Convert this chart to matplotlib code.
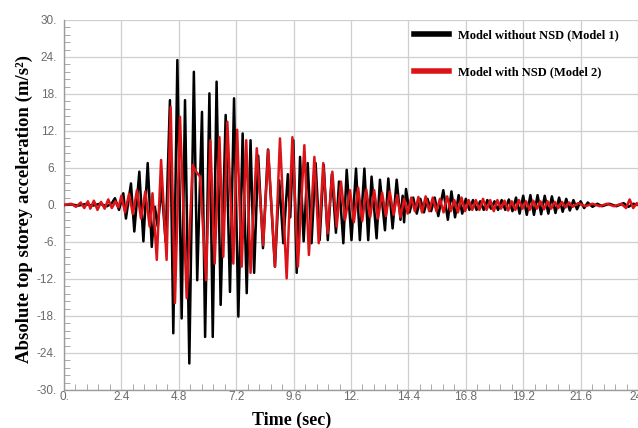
import matplotlib
matplotlib.use("Agg")
import matplotlib.pyplot as plt
from matplotlib.ticker import MultipleLocator, FuncFormatter

# extremes (time, accel), model 1 (black)
t_model1 = [0.0, 0.3, 0.6, 0.9, 1.2, 1.5, 1.8, 2.0, 2.13, 2.30, 2.48, 2.59, 2.80, 2.94, 3.15, 3.32,
            3.50, 3.67, 3.80, 3.92, 4.08, 4.25, 4.43, 4.57, 4.74, 4.92, 5.06, 5.24, 5.43, 5.57, 5.77,
            5.90, 6.08, 6.22, 6.38, 6.55, 6.76, 6.94, 7.11, 7.29, 7.47, 7.64, 7.80, 7.95, 8.12, 8.32,
            8.53, 8.82, 9.00, 9.17, 9.36, 9.46, 9.59, 9.73, 9.87, 10.02, 10.19, 10.35, 10.52, 10.69,
            10.86, 11.03, 11.20, 11.37, 11.50, 11.68, 11.82, 12.02, 12.21, 12.37, 12.56, 12.72, 12.86,
            13.07, 13.21, 13.42, 13.56, 13.74, 13.91, 14.07, 14.16, 14.22, 14.30, 14.45, 14.60, 14.75,
            14.90, 15.05, 15.20, 15.35, 15.50, 15.65, 15.86, 16.05, 16.20, 16.35, 16.50, 16.65, 16.80,
            16.95, 17.10, 17.25, 17.40, 17.55, 17.70, 17.85, 18.00, 18.15, 18.30, 18.45, 18.60, 18.75,
            18.90, 19.05, 19.20, 19.35, 19.50, 19.65, 19.80, 19.95, 20.10, 20.25, 20.40, 20.55, 20.70,
            20.85, 21.00, 21.15, 21.30, 21.45, 21.60, 21.75, 21.90, 22.10, 22.30, 22.50, 22.80, 23.10,
            23.40, 23.60, 23.80, 24.0]
acc_model1 = [0, 0.1, -0.1, 0.15, -0.1, 0.2, -0.2, 0.3, 1.1, -0.8, 1.9, -2.2, 3.5, -4.3, 5.4, -5.9,
              6.8, -6.8, -0.3, -3.5, 3.0, -6.0, 17.0, -20.8, 23.5, -18.4, 17.0, -25.7, 21.6, -12.2, 15.1,
              -21.4, 18.1, -21.4, 20.0, -16.2, 14.6, -14.1, 17.3, -18.1, 11.6, -14.3, 10.5, -11.0, 8.0, -7.0,
              9.0, -10.0, 4.0, -6.2, 5.0, -2.0, 10.5, -11.0, 7.8, -5.9, 6.8, -6.2, 6.8, -5.7,
              6.5, -5.7, 5.0, -4.5, 3.8, -6.2, 5.7, -5.7, 5.9, -5.7, 5.9, -5.7, 4.6,
              -5.4, 4.1, -4.1, 4.3, -3.8, 4.1, -2.4, 1.5, -2.8, 2.6, -1.2, 1.2, -1.4,
              1.0, -1.2, 1.0, -1.0, 1.2, -1.8, 2.4, -2.4, 2.2, -2.0, 1.6, -1.4, 1.0,
              -0.8, 0.8, -0.8, 0.6, -0.8, 0.8, -0.6, 0.6, -0.8, 0.8, -0.8, 0.9, -1.0,
              1.2, -1.4, 1.5, -1.6, 1.6, -1.6, 1.6, -1.5, 1.5, -1.4, 1.4, -1.3, 1.2,
              -1.1, 1.0, -0.9, 0.8, -0.7, 0.6, -0.5, 0.4, -0.3, 0.2, -0.2, 0.2, -0.2,
              0.3, -0.3, 0.2, 0.0]

# model 2 (red)
t_model2 = [0.0, 0.3, 0.5, 0.7, 0.85, 1.0, 1.1, 1.25, 1.4, 1.55, 1.7, 1.85, 2.0, 2.15, 2.28, 2.40,
            2.55, 2.72, 2.88, 3.05, 3.22, 3.40, 3.58, 3.70, 3.88, 4.06, 4.29, 4.46, 4.64, 4.85, 5.13,
            5.38, 5.50, 5.69, 5.94, 6.12, 6.30, 6.50, 6.66, 6.83, 7.08, 7.24, 7.43, 7.62, 7.80, 8.06,
            8.33, 8.54, 8.82, 9.03, 9.31, 9.55, 9.78, 10.05, 10.24, 10.47, 10.65, 10.84, 11.02, 11.22,
            11.40, 11.58, 11.75, 11.96, 12.12, 12.30, 12.47, 12.64, 12.80, 12.97, 13.13, 13.30, 13.46,
            13.62, 13.78, 13.93, 14.07, 14.22, 14.37, 14.52, 14.67, 14.82, 14.97, 15.12, 15.27, 15.42,
            15.57, 15.72, 15.87, 16.02, 16.17, 16.32, 16.47, 16.62, 16.77, 16.92, 17.07, 17.22, 17.37,
            17.52, 17.67, 17.82, 17.97, 18.12, 18.27, 18.42, 18.57, 18.72, 18.87, 19.02, 19.17, 19.32,
            19.47, 19.62, 19.77, 19.92, 20.07, 20.22, 20.37, 20.52, 20.67, 20.82, 20.97, 21.12, 21.27,
            21.50, 21.80, 22.10, 22.40, 22.70, 23.00, 23.30, 23.50, 23.65, 23.80, 23.95, 24.0]
acc_model2 = [0, 0.2, -0.3, 0.4, -0.5, 0.6, -0.6, 0.7, -0.8, 0.5, -0.6, 0.9, -0.5, 0.6, -0.4, 1.5,
              -1.2, 1.8, -1.5, 2.4, -2.2, 2.2, -3.5, 1.9, -8.9, 7.3, -8.9, 15.9, -15.9, 14.3, -15.1,
              6.5, 5.5, 4.6, -12.2, 10.5, -9.5, 11.0, -8.4, 13.5, -9.5, 12.2, -10.0, 10.5, -11.0, 9.2,
              -6.5, 8.9, -10.0, 10.8, -11.9, 11.0, -10.0, 9.7, -8.1, 7.8, -6.2, 6.8, -4.6, 5.4,
              -3.5, 3.8, -2.4, 2.4, -2.8, 2.8, -2.6, 2.5, -2.0, 2.4, -2.2, 2.0, -1.8,
              2.2, -1.6, 1.6, -2.0, 1.0, -1.4, 1.2, -1.0, 1.3, -1.2, 1.4, -1.0, 1.2,
              -1.0, 1.0, -1.2, 1.4, -1.0, 0.8, -1.2, 1.2, -1.0, 0.8, -0.8, 0.8, -0.8,
              1.0, -0.8, 0.8, -1.0, 0.8, -0.6, 0.7, -0.9, 0.6, -0.8, 0.8, -0.6, 0.6,
              -0.8, 0.7, -0.6, 0.6, -0.7, 0.6, -0.6, 0.5, -0.5, 0.5, -0.4, 0.4, -0.3,
              0.3, -0.2, 0.2, -0.2, 0.2, -0.2, 0.2, -0.5, 0.9, -0.5, 0.3, 0.1]

labels = ["Model without NSD (Model 1)", "Model with NSD (Model 2)"]

fig = plt.figure(figsize=(6.38, 4.28), dpi=100)
ax = fig.add_axes([0.1003, 0.0888, 0.8997, 0.8645])

ax.plot(t_model1, acc_model1, color="black", lw=1.8, label=labels[0], zorder=3)
ax.plot(t_model2, acc_model2, color="#dc1418", lw=1.8, label=labels[1], zorder=4)

ax.set_xlim(0, 24)
ax.set_ylim(-30, 30)
ax.xaxis.set_major_locator(MultipleLocator(2.4))
ax.xaxis.set_minor_locator(MultipleLocator(0.48))
ax.yaxis.set_major_locator(MultipleLocator(6))
ax.yaxis.set_minor_locator(MultipleLocator(1.2))


def fmt(v, pos):
    v = round(v, 3)
    if abs(v - round(v)) < 1e-6:
        return "%d." % int(round(v))
    return "%g" % v


ax.xaxis.set_major_formatter(FuncFormatter(fmt))
ax.yaxis.set_major_formatter(FuncFormatter(fmt))

ax.grid(True, which="major", color="#cfcfcf", lw=0.9)
ax.set_axisbelow(True)
for s in ["top", "right"]:
    ax.spines[s].set_visible(False)
for s in ["left", "bottom"]:
    ax.spines[s].set_color("#9a9a9a")
    ax.spines[s].set_linewidth(1.0)

ax.tick_params(which="both", direction="in", colors="#9a9a9a")
ax.tick_params(which="major", length=0, labelsize=8.5, labelcolor="#6a6a6a")
ax.tick_params(axis="x", which="major", pad=1)
ax.tick_params(axis="y", which="major", pad=5)
ax.tick_params(which="minor", length=4)
for lab in ax.get_xticklabels() + ax.get_yticklabels():
    lab.set_family("Liberation Sans")

ax.set_xlabel("Time (sec)", family="Liberation Serif", fontweight="bold", fontsize=13)
ax.set_ylabel("Absolute top storey acceleration (m/s²)", family="Liberation Serif",
              fontweight="bold", fontsize=13.5)
ax.xaxis.set_label_coords(0.397, -0.059)
ax.yaxis.set_label_coords(-0.054, 0.49)

leg = ax.legend(loc="upper left", bbox_to_anchor=(0.59, 1.005), frameon=False,
                prop={"family": "Liberation Serif", "weight": "bold", "size": 9},
                handlelength=2.8, handletextpad=0.7, labelspacing=2.0)
for h in leg.get_lines():
    h.set_linewidth(4)

fig.savefig("out.png", dpi=100)
